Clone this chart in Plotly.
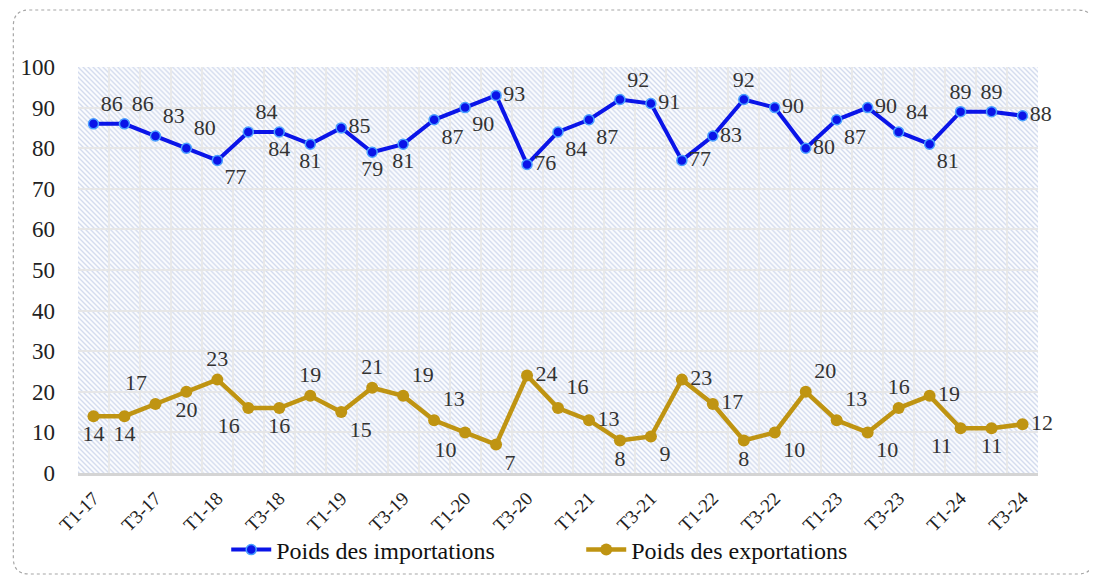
import base64

import plotly.graph_objects as go

# ─── Data ──────────────────────────────────────────────────────────────────────

quarters = [
    "T1-17", "T2-17", "T3-17", "T4-17",
    "T1-18", "T2-18", "T3-18", "T4-18",
    "T1-19", "T2-19", "T3-19", "T4-19",
    "T1-20", "T2-20", "T3-20", "T4-20",
    "T1-21", "T2-21", "T3-21", "T4-21",
    "T1-22", "T2-22", "T3-22", "T4-22",
    "T1-23", "T2-23", "T3-23", "T4-23",
    "T1-24", "T2-24", "T3-24",
]
imports_pct = [86, 86, 83, 80, 77, 84, 84, 81, 85, 79, 81, 87, 90, 93, 76, 84,
               87, 92, 91, 77, 83, 92, 90, 80, 87, 90, 84, 81, 89, 89, 88]
exports_pct = [14, 14, 17, 20, 23, 16, 16, 19, 15, 21, 19, 13, 10, 7, 24, 16,
               13, 8, 9, 23, 17, 8, 10, 20, 13, 10, 16, 19, 11, 11, 12]
y_ticks = [0, 10, 20, 30, 40, 50, 60, 70, 80, 90, 100]

# label placement (Excel-like, per point)
imp_pos = ["top right", "top right", "top right", "top right", "bottom right",
           "top right", "bottom center", "bottom center", "middle right", "bottom center",
           "bottom center", "bottom right", "bottom right", "middle right", "middle right",
           "bottom right", "bottom right", "top right", "middle right", "middle right",
           "middle right", "top center", "middle right", "middle right", "bottom right",
           "middle right", "top right", "bottom right", "top center", "top center",
           "middle right"]
exp_pos = ["bottom center", "bottom center", "top left", "bottom center", "top center",
           "bottom left", "bottom center", "top center", "bottom right", "top center",
           "top right", "top right", "bottom left", "bottom right", "middle right",
           "top right", "middle right", "bottom center", "bottom right", "middle right",
           "middle right", "bottom center", "bottom right", "top right", "top right",
           "bottom right", "top center", "middle right", "bottom left", "bottom center",
           "middle right"]

FONT = "Liberation Serif"
BLUE = "#0a14e8"
GOLD = "#bf9412"

# the page body adds an 8px offset, so layout pixels are window pixels - 8
OFF = 8

# ─── Hatched plot background ───────────────────────────────────────────────────

W, H = 965, 406
svg = f"""<svg xmlns='http://www.w3.org/2000/svg' width='{W}' height='{H}'>
<defs><pattern id='h' patternUnits='userSpaceOnUse' width='5' height='5'>
<path d='M-1,-1 L6,6 M-1,4 L1,6 M4,-1 L6,1' stroke='#d3dbee' stroke-width='1.4'/>
</pattern></defs>
<rect width='{W}' height='{H}' fill='#fbfcfe'/>
<rect width='{W}' height='{H}' fill='url(#h)'/>
</svg>"""
bg_src = "data:image/svg+xml;base64," + base64.b64encode(svg.encode()).decode()

# ─── Figure ────────────────────────────────────────────────────────────────────

idx = list(range(len(quarters)))

fig = go.Figure()
fig.add_trace(go.Scatter(
    x=idx, y=imports_pct, name="Poids des importations",
    mode="lines+markers+text", text=[str(v) for v in imports_pct],
    textposition=imp_pos, textfont=dict(family=FONT, size=22, color="#333333"),
    line=dict(color=BLUE, width=4),
    marker=dict(color=BLUE, size=10, line=dict(color="#4aa0ff", width=1.5)),
    cliponaxis=False,
))
fig.add_trace(go.Scatter(
    x=idx, y=exports_pct, name="Poids des exportations",
    mode="lines+markers+text", text=[str(v) for v in exports_pct],
    textposition=exp_pos, textfont=dict(family=FONT, size=22, color="#333333"),
    line=dict(color=GOLD, width=4.5),
    marker=dict(color=GOLD, size=12),
    cliponaxis=False,
))

# rounded frame around the chart (window pixel -> paper coords)
L, T = 73 - OFF, 67 - OFF
R = 1097 - (L + W)
B = 577 - (T + H)
def px(x):
    return (x - OFF - L) / W
def py(y):
    return (T + H - (y - OFF)) / H
x0, x1, y0, y1, r = 8, 1094, 10, 574, 16
frame = (f"M{px(x0 + r)},{py(y0)} L{px(x1 - r)},{py(y0)} "
         f"Q{px(x1)},{py(y0)} {px(x1)},{py(y0 + r)} L{px(x1)},{py(y1 - r)} "
         f"Q{px(x1)},{py(y1)} {px(x1 - r)},{py(y1)} L{px(x0 + r)},{py(y1)} "
         f"Q{px(x0)},{py(y1)} {px(x0)},{py(y1 - r)} L{px(x0)},{py(y0 + r)} "
         f"Q{px(x0)},{py(y0)} {px(x0 + r)},{py(y0)} Z")
fig.add_shape(type="path", path=frame, xref="paper", yref="paper",
              line=dict(color="#a6a6a6", width=1.2, dash="dot"), layer="below")

fig.add_layout_image(dict(
    source=bg_src, xref="paper", yref="paper", x=0, y=1, sizex=1, sizey=1,
    xanchor="left", yanchor="top", sizing="stretch", layer="below",
))

fig.update_xaxes(
    range=[-0.5, len(quarters) - 0.5],
    tickvals=idx[::2], ticktext=quarters[::2], tickangle=-45,
    tickfont=dict(family=FONT, size=19, color="#222222"),
    showgrid=False, zeroline=False,
    showline=True, linecolor="#d4d4d4", linewidth=2.5,
    ticks="", ticklabelstandoff=4,
    minor=dict(tickvals=[i - 0.5 for i in idx[1:]], showgrid=True,
               gridcolor="rgba(232,232,232,0.95)", gridwidth=2),
)
fig.update_yaxes(
    range=[0, 100], tickvals=y_ticks,
    tickfont=dict(family=FONT, size=23, color="#222222"),
    showgrid=True, gridcolor="rgba(230,230,230,0.95)", gridwidth=1.5,
    zeroline=False, showline=False, ticklabelstandoff=22,
)
fig.update_layout(
    width=1097, height=577,
    margin=dict(l=L, r=R, t=T, b=B),
    paper_bgcolor="white", plot_bgcolor="rgba(0,0,0,0)",
    font=dict(family=FONT, color="#222222"),
    showlegend=True,
    legend=dict(orientation="h", x=px(222), xanchor="left", y=py(550), yanchor="middle",
                font=dict(family=FONT, size=24, color="#111111"),
                bgcolor="rgba(0,0,0,0)", itemwidth=40, entrywidth=300,
                traceorder="normal"),
)

fig.write_html("out.html")
